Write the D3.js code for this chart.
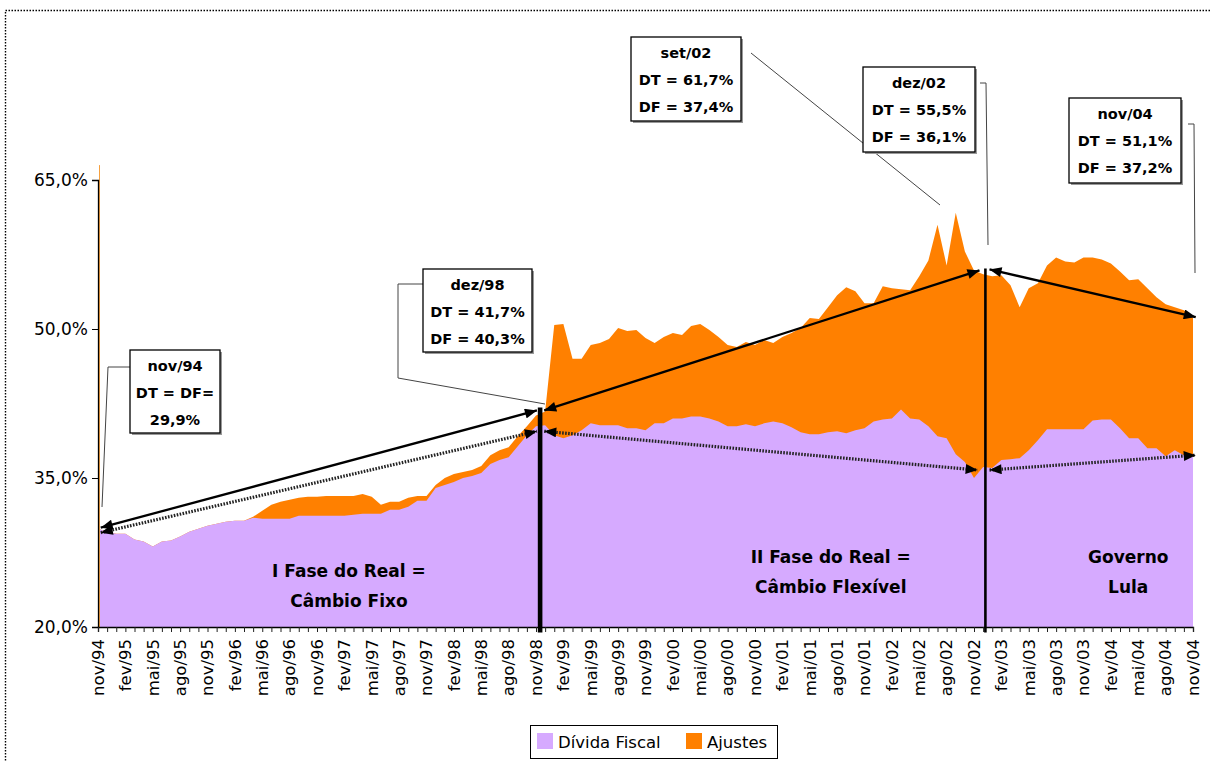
<!DOCTYPE html>
<html><head><meta charset="utf-8">
<script src="https://cdn.jsdelivr.net/npm/d3@7"></script>
<style>body{margin:0;background:#fff}svg{display:block}</style>
</head><body>
<script>
// ---- data (% do PIB), monthly nov/94 .. nov/04 ----
const monthNames = ["jan","fev","mar","abr","mai","jun","jul","ago","set","out","nov","dez"];
const categories = [];
for (let i = 0; i <= 120; i++) {
  const mi = (10 + i) % 12, yr = 94 + Math.floor((10 + i) / 12);
  categories.push(monthNames[mi] + "/" + String(yr % 100).padStart(2, "0"));
}
const dividaFiscal = [
  29.9,29.6,29.4,29.4,28.8,28.6,28.1,28.6,28.7,29.1,29.6,29.9,30.2,30.4,30.6,30.7,30.7,
  31.0,30.9,30.9,30.9,30.9,31.2,31.2,31.2,31.2,31.2,31.2,31.3,31.4,31.4,31.4,31.8,31.8,32.1,32.7,32.7,
  34.0,34.3,34.6,35.0,35.2,35.5,36.4,36.8,37.1,38.2,39.3,40.2,40.3,
  39.3,39.0,39.3,39.8,40.5,40.3,40.3,40.3,40.0,40.0,39.8,40.5,
  40.5,41.0,41.0,41.2,41.2,41.0,40.7,40.2,40.2,40.4,40.2,40.5,
  40.7,40.5,40.1,39.6,39.4,39.4,39.6,39.7,39.5,39.8,40.0,40.7,
  40.9,41.0,41.9,41.0,40.9,40.2,39.2,39.0,37.4,36.6,35.0,36.1,
  36.0,36.8,36.9,37.0,37.8,38.8,39.9,39.9,39.9,39.9,39.9,40.8,
  40.9,40.9,40.0,39.0,39.0,38.0,38.0,37.2,37.8,37.3,37.2
];
const dividaTotal = [
  29.9,29.6,29.4,29.4,28.8,28.6,28.1,28.6,28.7,29.1,29.6,29.9,30.2,30.4,30.6,30.7,30.7,
  31.1,31.7,32.3,32.6,32.8,33.0,33.1,33.1,33.2,33.2,33.2,33.2,33.4,33.1,32.3,32.6,32.6,33.0,33.2,33.2,
  34.3,35.0,35.4,35.6,35.8,36.2,37.3,37.8,38.1,39.2,40.2,41.3,41.7,
  50.4,50.5,47.0,47.0,48.4,48.6,49.0,50.1,49.8,49.9,49.1,48.6,
  49.2,49.6,49.4,50.3,50.5,49.9,49.2,48.4,48.2,48.7,48.4,48.9,
  48.6,49.2,49.6,50.1,51.1,51.0,52.2,53.4,54.2,53.8,52.6,52.6,
  54.3,54.1,54.0,53.9,55.3,56.9,60.5,56.4,61.7,57.8,55.9,55.5,
  55.3,55.4,54.4,52.2,54.1,54.6,56.4,57.2,56.8,56.7,57.2,57.2,
  57.0,56.6,55.8,54.9,55.0,54.1,53.2,52.5,52.2,51.9,51.1
];
const ajustes = dividaTotal.map((v, i) => +(v - dividaFiscal[i]).toFixed(1));
const seriesNames = ["Dívida Fiscal", "Ajustes"];
const seriesColors = ["#D6AAFF", "#FF8000"];
const yTicks = [20, 35, 50, 65];
const xTickLabels = ["nov/94","fev/95","mai/95","ago/95","nov/95","fev/96","mai/96","ago/96","nov/96",
  "fev/97","mai/97","ago/97","nov/97","fev/98","mai/98","ago/98","nov/98","fev/99","mai/99","ago/99",
  "nov/99","fev/00","mai/00","ago/00","nov/00","fev/01","mai/01","ago/01","nov/01","fev/02","mai/02",
  "ago/02","nov/02","fev/03","mai/03","ago/03","nov/03","fev/04","mai/04","ago/04","nov/04"];

// annotations: [monthIndex, value]
const arrowsSolid = [
  [[0.3, 30.0], [48.1, 41.8]],
  [[48.9, 41.8], [96.6, 55.9]],
  [[97.7, 56.0], [120.3, 51.2]]
];
const arrowsDotted = [
  [[0.3, 29.5], [48.1, 39.7]],
  [[48.9, 39.7], [96.4, 35.8]],
  [[97.7, 35.8], [120.3, 37.3]]
];
const dividers = [[48.45, 42.1, 4.6], [97.25, 56.1, 2.6]];
const callouts = [
  {lines:["nov/94","DT = DF=","29,9%"], box:[130,350,90,83], leader:[[130,367],[108,367],[102,507]]},
  {lines:["dez/98","DT = 41,7%","DF = 40,3%"], box:[423,269,109,83], leader:[[423,284],[398,284],[398,378],[545,404]]},
  {lines:["set/02","DT = 61,7%","DF = 37,4%"], box:[631,37,110,84], leader:[[751,53],[940,205]]},
  {lines:["dez/02","DT = 55,5%","DF = 36,1%"], box:[863,67,112,85], leader:[[980,83],[986,83],[988,245]]},
  {lines:["nov/04","DT = 51,1%","DF = 37,2%"], box:[1069,98,112,85], leader:[[1188,124],[1194,124],[1195,273]]}
];
const phaseLabels = [
  {m: 27.5, lines: ["I Fase do Real =", "Câmbio Fixo"], v: 25.0},
  {m: 80.3, lines: ["II Fase do Real =", "Câmbio Flexível"], v: 26.4},
  {m: 112.9, lines: ["Governo", "Lula"], v: 26.4}
];

const W = 1211, H = 762;
const FONT = "'Comic Sans MS', 'DejaVu Sans', sans-serif";
const svg = d3.select("body").append("svg").attr("width", W).attr("height", H)
  .style("font-family", FONT);

const x = d3.scaleLinear().domain([0, 120]).range([98, 1193]);
const y = d3.scaleLinear().domain([20, 65]).range([627, 180]);

// outer dotted border
svg.append("rect").attr("x", 5.5).attr("y", 10.5).attr("width", 1230).attr("height", 780)
  .attr("fill", "none").attr("stroke", "#000").attr("stroke-width", 1.4).attr("stroke-dasharray", "1.5,1.5");

// stacked areas
const rows = categories.map((c, i) => ({i, f: dividaFiscal[i], a: ajustes[i]}));
const stack = d3.stack().keys(["f", "a"]).offset(d3.stackOffsetNone);
const layers = stack(rows);
const area = d3.area().x(d => x(d.data.i)).y0(d => y(Math.max(20, d[0]))).y1(d => y(d[1]));
svg.append("path").datum(layers[1])
  .attr("d", d3.area().x(d => x(d.data.i)).y0(y(20)).y1(d => y(d[1])))
  .attr("fill", seriesColors[1]);
svg.append("path").datum(layers[0])
  .attr("d", area).attr("fill", seriesColors[0]);

// y axis
svg.append("line").attr("x1", x(0) + 1.5).attr("x2", x(0) + 1.5).attr("y1", y(66.5)).attr("y2", y(20))
  .attr("stroke", "#F5A040").attr("stroke-width", 1);
const yAxis = svg.append("g").attr("transform", `translate(${x(0)},0)`)
  .call(d3.axisLeft(y).tickValues(yTicks).tickSize(6).tickPadding(4)
    .tickFormat(d => d.toFixed(1).replace(".", ",") + "%"));
yAxis.select(".domain").attr("stroke", "#000").attr("stroke-width", 1.3);
yAxis.selectAll("text").attr("font-size", 17).attr("font-family", FONT).attr("fill", "#000");

// x axis (monthly ticks)
const xAxis = svg.append("g").attr("transform", `translate(0,${y(20)})`)
  .call(d3.axisBottom(x).tickValues(d3.range(0, 121)).tickSize(5).tickFormat(""));
xAxis.select(".domain").attr("stroke", "#000").attr("stroke-width", 1.3);
xAxis.selectAll(".tick line").attr("stroke", "#222");
svg.append("g").selectAll("text").data(xTickLabels).join("text")
  .attr("transform", (d, k) => `translate(${x(k * 3)},${y(20) + 12}) rotate(-90)`)
  .attr("text-anchor", "end").attr("dy", "0.35em")
  .attr("font-size", 16.5).text(d => d);

// markers
const defs = svg.append("defs");
defs.append("marker").attr("id", "ah").attr("viewBox", "0 0 12 10").attr("refX", 12).attr("refY", 5)
  .attr("markerWidth", 13).attr("markerHeight", 10).attr("markerUnits", "userSpaceOnUse")
  .attr("orient", "auto-start-reverse")
  .append("path").attr("d", "M0,0 L12,5 L0,10 Z").attr("fill", "#000");

const ln = d3.line().x(p => x(p[0])).y(p => y(p[1]));
svg.append("g").selectAll("path").data(arrowsDotted).join("path")
  .attr("d", ln).attr("fill", "none").attr("stroke", "#222").attr("stroke-width", 3.2)
  .attr("stroke-dasharray", "1.6,1.4")
  .attr("marker-start", "url(#ah)").attr("marker-end", "url(#ah)");
svg.append("g").selectAll("path").data(arrowsSolid).join("path")
  .attr("d", ln).attr("fill", "none").attr("stroke", "#000").attr("stroke-width", 2.3)
  .attr("marker-start", "url(#ah)").attr("marker-end", "url(#ah)");

// dividers
svg.append("g").selectAll("line").data(dividers).join("line")
  .attr("x1", d => x(d[0])).attr("x2", d => x(d[0]))
  .attr("y1", d => y(d[1])).attr("y2", y(19.45))
  .attr("stroke", "#000").attr("stroke-width", d => d[2]);

// phase labels
phaseLabels.forEach(p => {
  const t = svg.append("text").attr("x", x(p.m)).attr("y", y(p.v)).attr("text-anchor", "middle")
    .attr("font-size", 17).attr("font-weight", "bold");
  p.lines.forEach((l, k) => t.append("tspan").attr("x", x(p.m)).attr("dy", k ? 30 : 0).text(l));
});

// callouts
const cg = svg.append("g");
callouts.forEach(c => {
  const [bx, by, bw, bh] = c.box;
  cg.append("path").attr("d", d3.line()(c.leader)).attr("fill", "none")
    .attr("stroke", "#444").attr("stroke-width", 1);
  cg.append("rect").attr("x", bx + 2).attr("y", by + 2).attr("width", bw).attr("height", bh).attr("fill", "#999");
  cg.append("rect").attr("x", bx).attr("y", by).attr("width", bw).attr("height", bh)
    .attr("fill", "#fff").attr("stroke", "#000").attr("stroke-width", 1.3);
  c.lines.forEach((l, k) => cg.append("text").attr("x", bx + bw / 2).attr("y", by + 21 + k * 27)
    .attr("text-anchor", "middle").attr("font-size", 14.5).attr("font-weight", "bold").text(l));
});

// legend
const lg = svg.append("g");
lg.append("rect").attr("x", 530.5).attr("y", 725.5).attr("width", 247).attr("height", 33)
  .attr("fill", "#fff").attr("stroke", "#000").attr("stroke-width", 1);
const legendItems = [{x: 537, tx: 558}, {x: 686, tx: 707}];
seriesNames.forEach((n, k) => {
  lg.append("rect").attr("x", legendItems[k].x).attr("y", 733).attr("width", 16).attr("height", 16)
    .attr("fill", seriesColors[k]);
  lg.append("text").attr("x", legendItems[k].tx).attr("y", 748).attr("font-size", 16.5).text(n);
});
</script>
</body></html>
